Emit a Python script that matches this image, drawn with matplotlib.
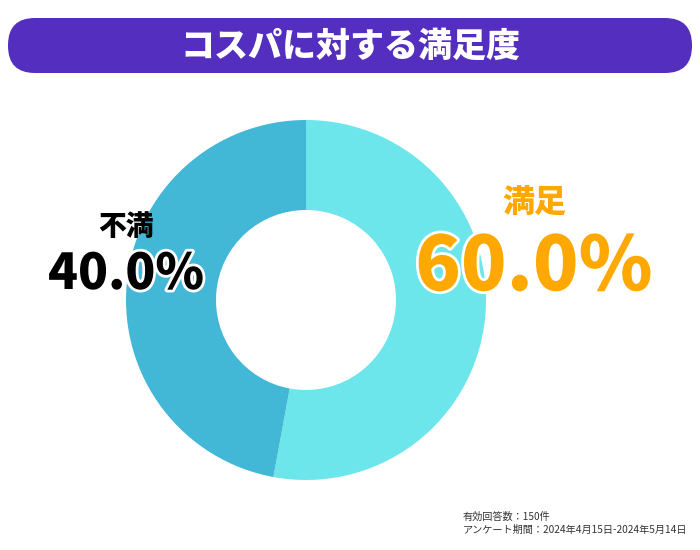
import matplotlib
matplotlib.use('Agg')
import matplotlib.pyplot as plt
import matplotlib.patheffects as pe
from matplotlib.patches import FancyBboxPatch

plt.rcParams['font.family'] = ['Noto Sans CJK JP', 'DejaVu Sans']

# データ（図の扇形の比率をそのまま読んだ値）
categories = ['満足', '不満']
shares = [52.9, 47.1]
label_texts = ['60.0%', '40.0%']
colors = ['#6ce6ea', '#42b7d6']
title = 'コスパに対する満足度'
notes = ['有効回答数：150件', 'アンケート期間：2024年4月15日-2024年5月14日']

fig = plt.figure(figsize=(7, 5.5), dpi=100)

# ドーナツ
ax = fig.add_axes([126 / 700, 70 / 550, 360 / 700, 360 / 550])
ax.pie(shares, colors=colors, startangle=90, counterclock=False,
       radius=1.0, wedgeprops=dict(width=0.5, edgecolor='none'))
ax.set_aspect('equal')
ax.set_xlim(-1, 1)
ax.set_ylim(-1, 1)

# 文字などはピクセル座標のレイヤーに
ov = fig.add_axes([0, 0, 1, 1], zorder=5)
ov.set_xlim(0, 700)
ov.set_ylim(550, 0)
ov.axis('off')
ov.patch.set_alpha(0)

bar = FancyBboxPatch((8, 18), 684, 55, boxstyle='round,pad=0,rounding_size=27',
                     facecolor='#532ebf', edgecolor='none')
ov.add_patch(bar)
ov.text(350, 46, title, color='white', fontsize=24.5, fontweight='heavy',
        ha='center', va='center')

stroke = [pe.withStroke(linewidth=4, foreground='white')]
# 満足
ov.text(534, 203, categories[0], color='#ffa800', fontsize=23, fontweight='heavy',
        ha='center', va='center')
ov.text(534, 268, label_texts[0], color='#ffa800', fontsize=54, fontweight='heavy',
        ha='center', va='center', path_effects=stroke)
# 不満
ov.text(126, 227, categories[1], color='black', fontsize=20, fontweight='heavy',
        ha='center', va='center')
ov.text(126, 274, label_texts[1], color='black', fontsize=35.5, fontweight='heavy',
        ha='center', va='center', path_effects=stroke)

ov.text(463, 517, notes[0], color='#333333', fontsize=7.3, ha='left', va='center')
ov.text(463, 530, notes[1], color='#333333', fontsize=7.3, ha='left', va='center')

fig.savefig('out.png', dpi=100, facecolor='white')
